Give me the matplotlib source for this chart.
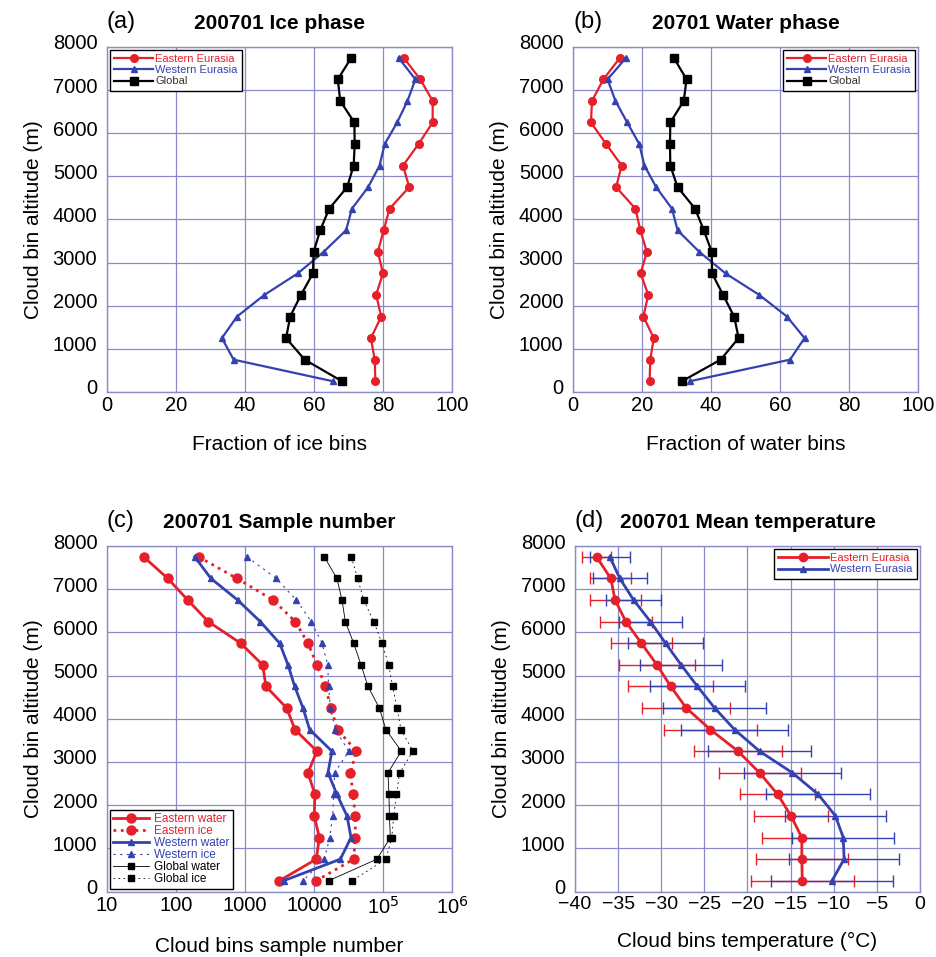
import matplotlib
matplotlib.use("Agg")
import matplotlib.pyplot as plt
import matplotlib.transforms as mtransforms
import numpy as np

plt.rcParams['font.family'] = ['Liberation Sans', 'DejaVu Sans']

# altitude bins (m), from top to bottom
altitude = [7750, 7250, 6750, 6250, 5750, 5250, 4750, 4250,
            3750, 3250, 2750, 2250, 1750, 1250, 750, 250]

# (a) fraction of ice bins (%)
ice_east = [86.0, 90.8, 94.4, 94.4, 90.3, 85.8, 87.6, 81.9,
            80.2, 78.5, 80.0, 78.0, 79.5, 76.5, 77.6, 77.8]
ice_west = [84.5, 89.4, 87.1, 84.1, 80.5, 79.0, 75.7, 71.0,
            69.3, 62.8, 55.3, 45.6, 37.7, 33.3, 36.7, 65.4]
ice_global = [70.8, 66.9, 67.6, 71.7, 71.8, 71.5, 69.6, 64.4,
              61.8, 59.9, 59.7, 56.2, 53.1, 51.9, 57.3, 68.1]

# (b) fraction of water bins (%)
wat_east = [13.6, 8.8, 5.5, 5.2, 9.6, 14.1, 12.5, 18.1,
            19.5, 21.4, 19.6, 21.8, 20.4, 23.4, 22.4, 22.2]
wat_west = [15.4, 10.0, 12.3, 15.7, 19.2, 20.7, 24.1, 28.7,
            30.3, 36.6, 44.2, 54.0, 62.0, 67.1, 62.9, 33.9]
wat_global = [29.2, 32.9, 32.1, 28.2, 28.1, 28.2, 30.3, 35.4,
              37.9, 40.2, 40.3, 43.5, 46.7, 48.0, 42.8, 31.6]

# (c) sample numbers
n_east_water = [34, 76, 148, 294, 865, 1800, 2015, 4015,
                5310, 11000, 8180, 10300, 10100, 11950, 10800, 3150]
n_east_ice = [213, 766, 2550, 5360, 8180, 11050, 14600, 17600,
              22000, 41100, 33700, 36800, 39700, 39700, 37600, 10800]
n_west_water = [187, 321, 783, 1667, 3180, 4200, 5250, 6930,
                8650, 18200, 15950, 21500, 30100, 34400, 24100, 3630]
n_west_ice = [1070, 2840, 5550, 9150, 13060, 15800, 16300, 17260,
              20400, 31800, 19950, 19300, 18660, 16900, 14120, 6930]
n_global_water = [14120, 21500, 25460, 28460, 37600, 48000, 60600, 88500,
                  110400, 184400, 118000, 122000, 124000, 127700, 81800, 16300]
n_global_ice = [34750, 42950, 52500, 73300, 96800, 120900, 138000, 159500,
                182300, 272000, 174500, 156000, 143000, 134000, 110400, 35600]

# (d) mean temperature (degC) and standard deviation
t_east = [-37.5, -35.85, -35.35, -34.1, -32.3, -30.5, -28.9, -27.1,
          -24.3, -21.1, -18.6, -16.5, -14.95, -13.7, -13.7, -13.65]
t_east_sd = [1.65, 2.4, 2.95, 3.0, 3.5, 4.45, 4.9, 5.1,
             5.4, 5.15, 4.75, 4.35, 4.3, 4.65, 5.3, 5.95]
t_west = [-35.96, -34.8, -33.2, -31.25, -29.5, -27.7, -25.8, -23.8,
          -21.5, -18.6, -14.8, -11.8, -9.8, -8.9, -8.8, -10.2]
t_west_sd = [2.35, 3.1, 3.2, 3.6, 4.3, 4.8, 5.5, 5.95,
             6.2, 5.95, 5.6, 6.0, 5.9, 5.9, 6.4, 7.1]

red = '#e5202a'
blue = '#3442b0'
gridc = '#8a8ac8'

fig = plt.figure(figsize=(9.36, 9.57), dpi=100)


def setup(ax, letter, title, xlabel, xsize=14.5):
    ax.set_ylim(0, 8000)
    ax.set_yticks(range(0, 8001, 1000))
    ax.grid(True, color=gridc, linewidth=0.9)
    ax.set_axisbelow(True)
    for s in ax.spines.values():
        s.set_color(gridc)
        s.set_linewidth(1.0)
    ax.tick_params(length=0)
    ax.tick_params(axis='x', pad=3, labelsize=xsize)
    ax.tick_params(axis='y', pad=7, labelsize=14.5)
    # y tick labels sit a little above their gridlines
    shift = mtransforms.ScaledTranslation(0, 5 / 100, fig.dpi_scale_trans)
    for lab in ax.get_yticklabels():
        lab.set_transform(lab.get_transform() + shift)
    ax.set_ylabel("Cloud bin altitude (m)", fontsize=15, labelpad=7)
    ax.set_xlabel(xlabel, fontsize=15, labelpad=14)
    ax.text(0.0, 1.04, letter, transform=ax.transAxes, fontsize=17,
            ha='left', va='bottom')
    ax.text(0.5, 1.04, title, transform=ax.transAxes, fontsize=15,
            fontweight='bold', ha='center', va='bottom')


def color_legend(leg, colors):
    leg.get_frame().set_edgecolor('black')
    leg.get_frame().set_linewidth(1.0)
    leg.get_frame().set_boxstyle('square', pad=0.0)
    for t, c in zip(leg.get_texts(), colors):
        t.set_color(c)


# (a)
ax = fig.add_axes([0.1143, 0.5904, 0.3686, 0.3605])
ax.plot(ice_east, altitude, '-o', color=red, lw=1.6, ms=5.5, label='Eastern Eurasia')
ax.plot(ice_west, altitude, '-^', color=blue, lw=1.6, ms=4.5, label='Western Eurasia')
ax.plot(ice_global, altitude, '-s', color='black', lw=1.6, ms=5.5, label='Global')
ax.set_xlim(0, 100)
setup(ax, "(a)", "200701 Ice phase", "Fraction of ice bins")
leg = ax.legend(loc='upper left', fontsize=8, handlelength=3.5, labelspacing=0.1,
                borderaxespad=0.25, fancybox=False, framealpha=1, handletextpad=0.2)
color_legend(leg, [red, blue, '#333333'])

# (b)
ax = fig.add_axes([0.6122, 0.5904, 0.3686, 0.3605])
ax.plot(wat_east, altitude, '-o', color=red, lw=1.6, ms=5.5, label='Eastern Eurasia')
ax.plot(wat_west, altitude, '-^', color=blue, lw=1.6, ms=4.5, label='Western Eurasia')
ax.plot(wat_global, altitude, '-s', color='black', lw=1.6, ms=5.5, label='Global')
ax.set_xlim(0, 100)
setup(ax, "(b)", "20701 Water phase", "Fraction of water bins")
leg = ax.legend(loc='upper right', fontsize=8, handlelength=3.5, labelspacing=0.1,
                borderaxespad=0.25, fancybox=False, framealpha=1, handletextpad=0.2)
color_legend(leg, [red, blue, '#333333'])

# (c)
ax = fig.add_axes([0.1143, 0.0684, 0.3686, 0.3610])
ax.plot(n_east_water, altitude, '-o', color=red, lw=2.0, ms=6.5, label='Eastern water')
ax.plot(n_east_ice, altitude, ':o', color=red, lw=2.0, ms=6.5, label='Eastern ice')
ax.plot(n_west_water, altitude, '-^', color=blue, lw=2.0, ms=5, label='Western water')
ax.plot(n_west_ice, altitude, linestyle=(0, (2, 4)), marker='^', color=blue, lw=0.8, ms=5,
        label='Western ice')
ax.plot(n_global_water, altitude, '-s', color='black', lw=0.6, ms=5, label='Global water')
ax.plot(n_global_ice, altitude, linestyle=(0, (2, 4)), marker='s', color='black', lw=0.6, ms=5,
        label='Global ice')
ax.set_xscale('log')
ax.set_xlim(10, 1e6)
ax.set_xticks([10, 100, 1000, 10000, 1e5, 1e6])
ax.set_xticklabels(['10', '100', '1000', '10000', r'10$^5$', r'10$^6$'])
ax.minorticks_off()
setup(ax, "(c)", "200701 Sample number", "Cloud bins sample number")
leg = ax.legend(loc='lower left', fontsize=8.5, handlelength=3.0, labelspacing=0.0,
                borderaxespad=0.25, fancybox=False, framealpha=1, handletextpad=0.4,
                borderpad=0.3)
color_legend(leg, [red, red, blue, blue, 'black', 'black'])

# (d)
ax = fig.add_axes([0.6143, 0.0684, 0.3686, 0.3610])
ax.errorbar(t_east, altitude, xerr=t_east_sd, fmt='-o', color=red, lw=2.0, ms=6,
            elinewidth=1.0, capsize=4, capthick=1.0, label='Eastern Eurasia')
ax.errorbar(t_west, altitude, xerr=t_west_sd, fmt='-^', color=blue, lw=2.0, ms=4.5,
            elinewidth=1.0, capsize=4, capthick=1.0, label='Western Eurasia')
ax.set_xlim(-40, 0)
ax.set_xticks(range(-40, 1, 5))
setup(ax, "(d)", "200701 Mean temperature", "Cloud bins temperature (°C)", xsize=14)
handles, labels = ax.get_legend_handles_labels()
handles = [h[0] for h in handles]
leg = ax.legend(handles, labels, loc='upper right', fontsize=8, handlelength=4.5,
                labelspacing=0.1, borderaxespad=0.25, fancybox=False, framealpha=1,
                handletextpad=0.2)
color_legend(leg, [red, blue])

fig.savefig("out.png", dpi=100)
